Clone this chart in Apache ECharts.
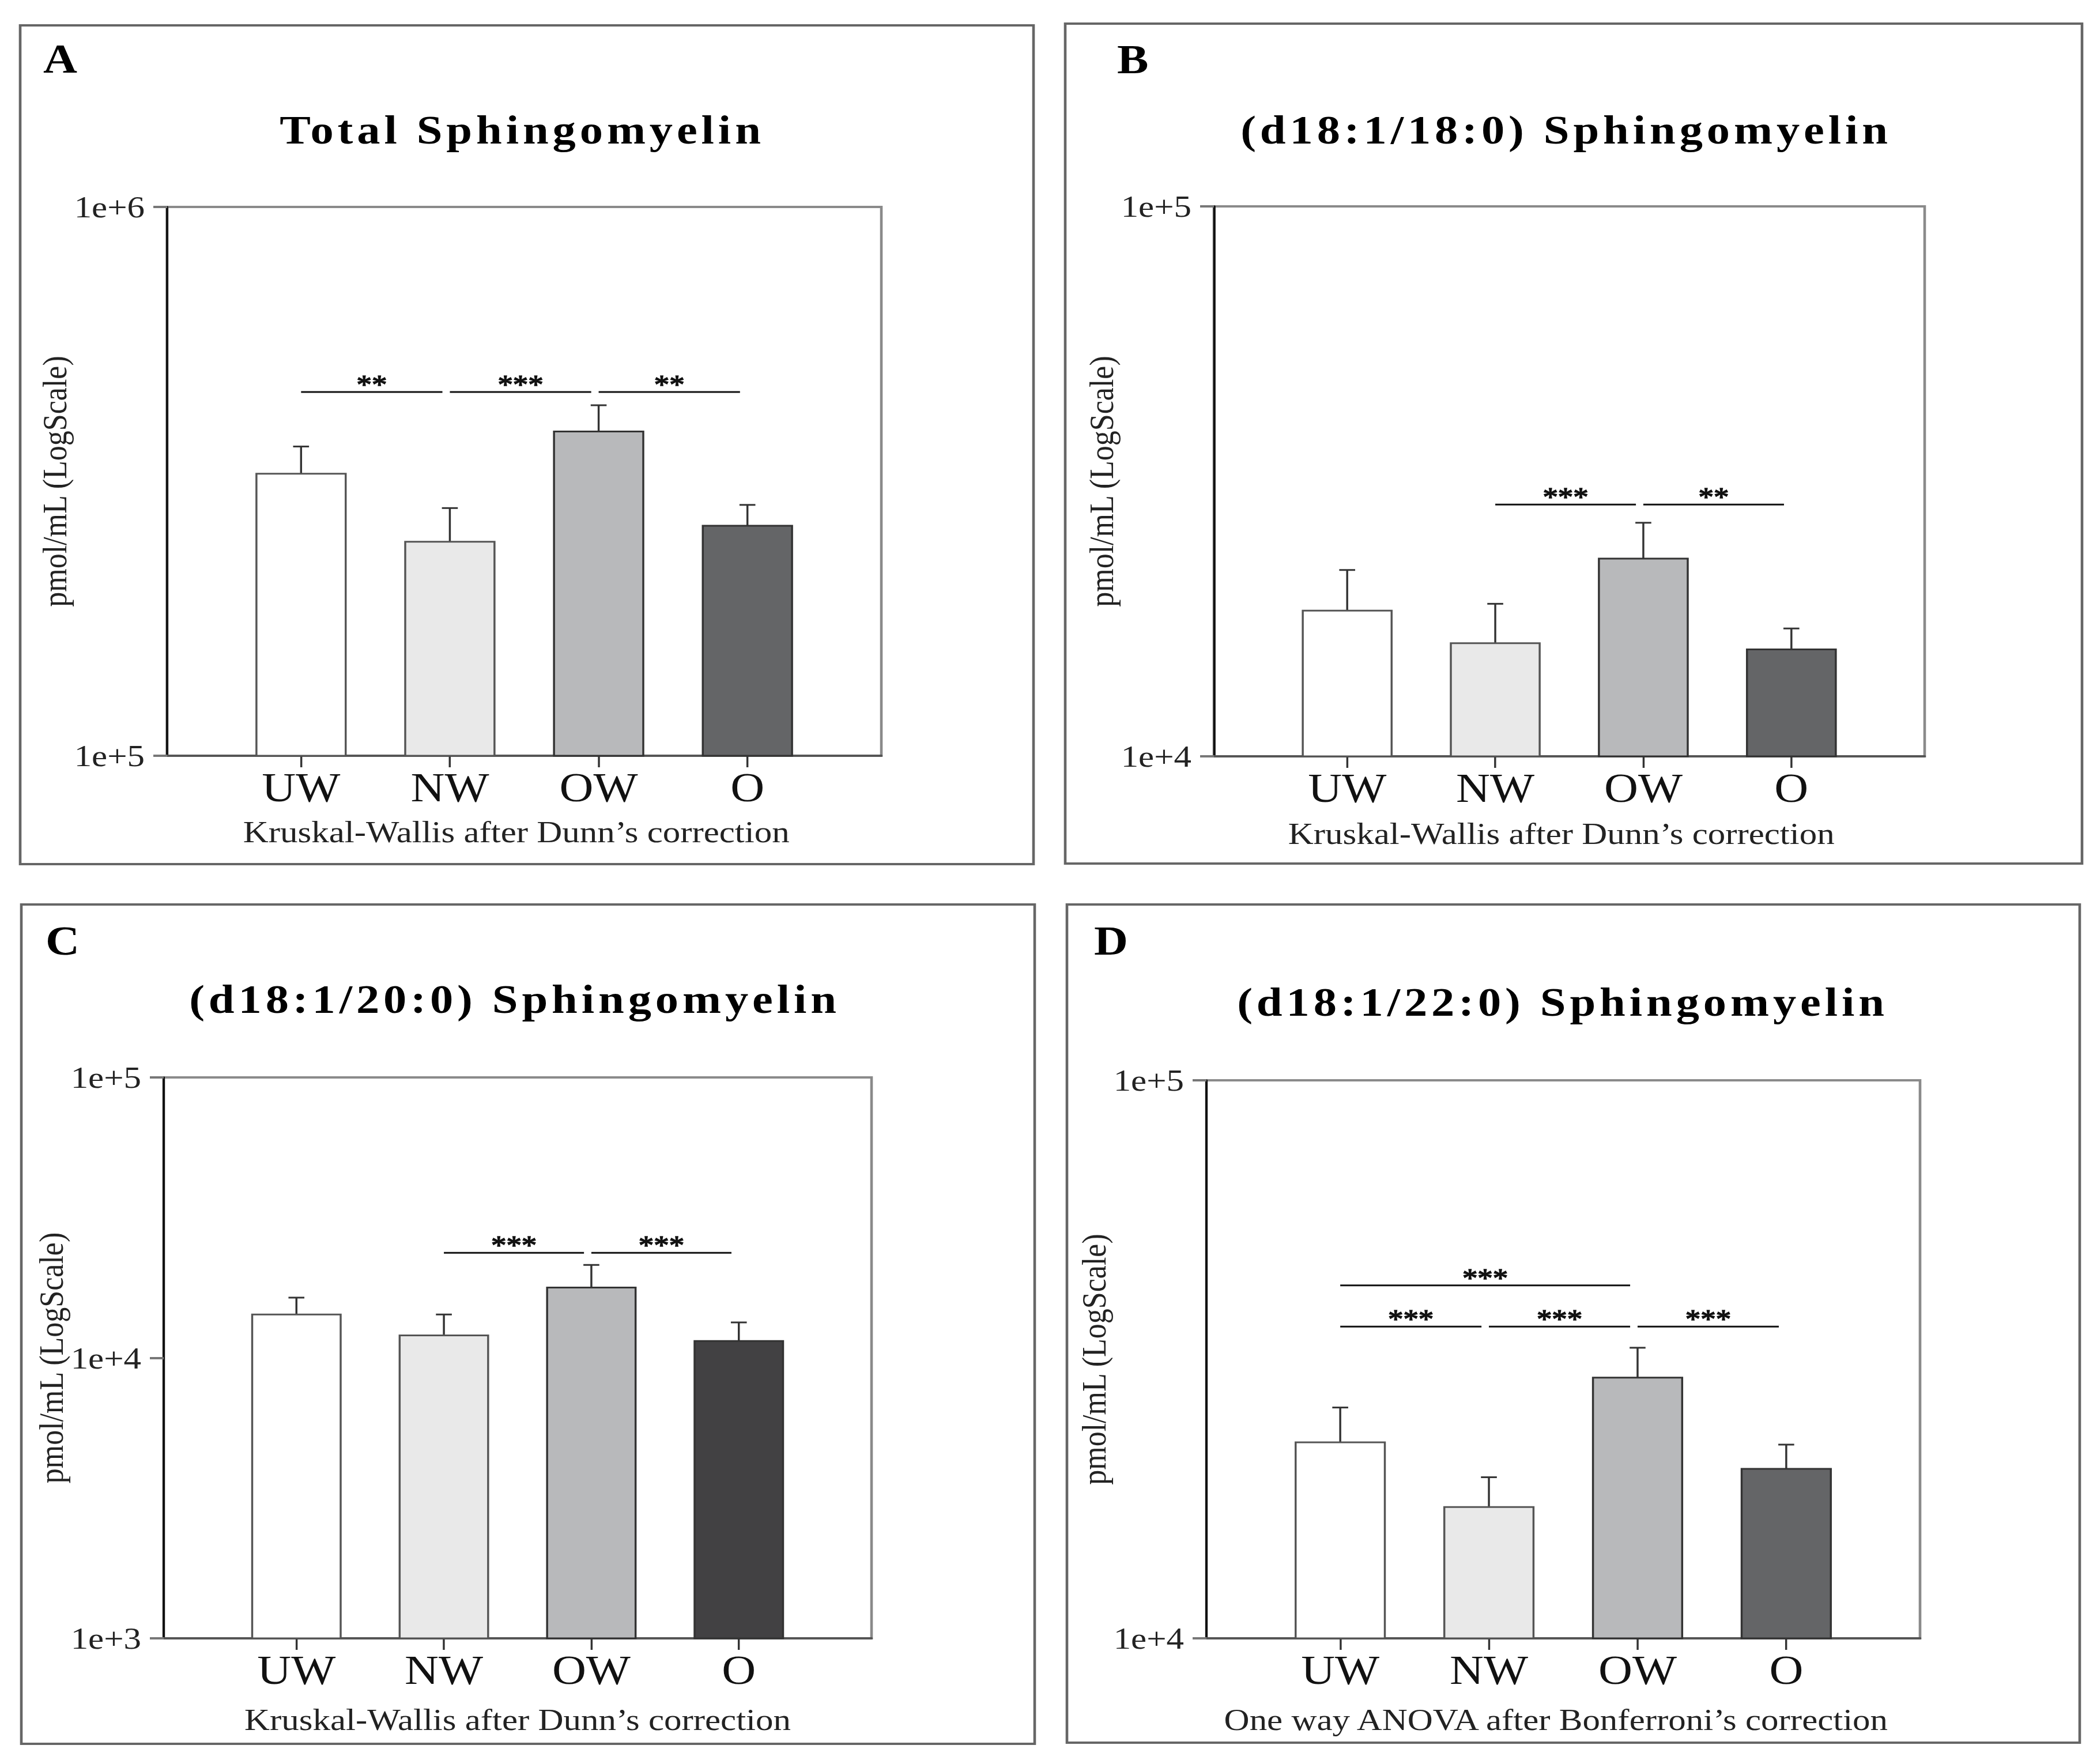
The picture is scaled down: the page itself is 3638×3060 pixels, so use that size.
<!DOCTYPE html>
<html>
<head>
<meta charset="utf-8">
<title>Sphingomyelin</title>
<script src="https://cdn.jsdelivr.net/npm/echarts@6/dist/echarts.min.js"></script>
<style>
html, body { margin: 0; padding: 0; background: #fff; overflow: hidden; }
#chart { height: 3060px; transform-origin: 0 0; }
/* titles are letter-spaced in the original */
#chart text[style*="bold"] { letter-spacing: 6px; }
</style>
</head>
<body>
<div id="chart"></div>
<script>
var categories = ['UW', 'NW', 'OW', 'O'];

// A - total sphingomyelin, mean and SEM (pmol/mL)
var totalMean = [326600, 245500, 389800, 262500];
var totalSem = [39400, 37200, 45400, 24000];
var totalRange = [1e5, 1e6];
var totalSig = [[0, 1, 460000], [1, 2, 460000], [2, 3, 460000]];
var totalStars = ['**', '***', '**'];

// B - (d18:1/18:0)
var sm18Mean = [18410, 16060, 22880, 15650];
var sm18Sem = [3410, 2880, 3710, 1430];
var sm18Range = [1e4, 1e5];
var sm18Sig = [[1, 2, 28700], [2, 3, 28700]];
var sm18Stars = ['***', '**'];

// C - (d18:1/20:0)
var sm20Mean = [14280, 12030, 17820, 11490];
var sm20Sem = [2120, 2250, 3630, 1890];
var sm20Range = [1e3, 1e5];
var sm20Sig = [[1, 2, 23700], [2, 3, 23700]];
var sm20Stars = ['***', '***'];

// D - (d18:1/22:0)
var sm22Mean = [22450, 17190, 29330, 20120];
var sm22Sem = [3470, 2250, 3840, 2120];
var sm22Range = [1e4, 1e5];
var sm22Sig = [[0, 2, 42900], [0, 1, 36200], [1, 2, 36200], [2, 3, 36200]];
var sm22Stars = ['***', '***', '***', '***'];

var dunnText = 'Kruskal-Wallis after Dunn’s correction';
var anovaText = 'One way ANOVA after Bonferroni’s correction';
var yName = 'pmol/mL (LogScale)';

// the original figure is stretched horizontally
var STRETCH = 1.15;
var FONT = "'Liberation Serif', serif";
function sx(v) { return v / STRETCH; }

var panels = [
    { letter: 'A', title: 'Total Sphingomyelin', mean: totalMean, sem: totalSem, range: totalRange,
      sig: totalSig, stars: totalStars, test: dunnText, dark: '#646567',
      box: [35, 44, 1793, 1499], plot: [290, 359, 1529, 1311], letterAt: [75, 126], titleAt: [906, 249],
      nameGap: 142, footGap: 105, footShift: 24 },
    { letter: 'B', title: '(d18:1/18:0) Sphingomyelin', mean: sm18Mean, sem: sm18Sem, range: sm18Range,
      sig: sm18Sig, stars: sm18Stars, test: dunnText, dark: '#646567',
      box: [1848, 41, 3612, 1498], plot: [2106, 358, 3339, 1312], letterAt: [1938, 127], titleAt: [2717, 249],
      nameGap: 122, footGap: 107, footShift: 24 },
    { letter: 'C', title: '(d18:1/20:0) Sphingomyelin', mean: sm20Mean, sem: sm20Sem, range: sm20Range,
      sig: sm20Sig, stars: sm20Stars, test: dunnText, dark: '#424143',
      box: [37, 1569, 1795, 3025], plot: [284, 1869, 1512, 2842], letterAt: [79, 1656], titleAt: [893, 1757],
      nameGap: 138, footGap: 114, footShift: 0 },
    { letter: 'D', title: '(d18:1/22:0) Sphingomyelin', mean: sm22Mean, sem: sm22Sem, range: sm22Range,
      sig: sm22Sig, stars: sm22Stars, test: anovaText, dark: '#646567',
      box: [1851, 1569, 3608, 3023], plot: [2093, 1874, 3331, 2842], letterAt: [1898, 1656], titleAt: [2711, 1762],
      nameGap: 112, footGap: 114, footShift: 22 }
];

function logLabel(v) {
    return '1e+' + Math.round(Math.log(v) / Math.LN10);
}

function barRenderer(pn) {
    var fills = ['#ffffff', '#e9e9e9', '#b8b9bb', pn.dark];
    var edges = ['#555', '#555', '#333', '#333'];
    return function (params, api) {
        var i = api.value(0), m = api.value(1), e = api.value(2);
        var top = api.coord([i, m]);
        var base = api.coord([i, pn.range[0]]);
        var hi = api.coord([i, m + e]);
        var bw = api.size([1, 0])[0] * 0.6;
        var err = { stroke: '#333', lineWidth: 3 };
        return {
            type: 'group',
            children: [
                { type: 'line', shape: { x1: top[0], y1: top[1], x2: hi[0], y2: hi[1] }, style: err },
                { type: 'line', shape: { x1: hi[0] - 12, y1: hi[1], x2: hi[0] + 12, y2: hi[1] }, style: err },
                { type: 'rect', shape: { x: top[0] - bw / 2, y: top[1], width: bw, height: base[1] - top[1] },
                  style: { fill: fills[i], stroke: edges[i], lineWidth: 3 } }
            ]
        };
    };
}

function sigRenderer(pn) {
    return function (params, api) {
        var a = api.coord([api.value(0), api.value(2)]);
        var b = api.coord([api.value(1), api.value(2)]);
        var band = api.size([1, 0])[0];
        var x1 = a[0], x2 = b[0] - band * 0.05;
        return {
            type: 'group',
            children: [
                { type: 'line', shape: { x1: x1, y1: a[1], x2: x2, y2: a[1] },
                  style: { stroke: '#111', lineWidth: 3 } },
                { type: 'text', x: (x1 + x2) / 2, y: a[1] - 12,
                  style: { text: pn.stars[params.dataIndex], fill: '#111', stroke: '#111', lineWidth: 1.5,
                           font: "46px " + FONT,
                           align: 'center', verticalAlign: 'middle',
                           textAlign: 'center', textVerticalAlign: 'middle' } }
            ]
        };
    };
}

var grids = [], xAxes = [], yAxes = [], series = [], graphics = [];

panels.forEach(function (pn, k) {
    var outer = 2 * k, inner = 2 * k + 1;
    var left = pn.plot[0], top = pn.plot[1], right = pn.plot[2], bottom = pn.plot[3];
    var step = (right - left) / 4.8;

    grids.push({ left: sx(left), top: top, width: sx(right - left), height: bottom - top,
                 show: true, borderColor: '#8a8a8a', borderWidth: 4, backgroundColor: 'transparent' });
    grids.push({ left: sx(left + 0.4 * step), top: top, width: sx(4 * step), height: bottom - top });

    xAxes.push({ type: 'value', gridIndex: outer, min: 0, max: 1,
                 axisLine: { show: true, onZero: false, lineStyle: { color: '#555', width: 4 } },
                 axisTick: { show: false }, axisLabel: { show: false }, splitLine: { show: false } });
    xAxes.push({ type: 'category', gridIndex: inner, data: categories,
                 axisLine: { show: false },
                 axisTick: { show: true, alignWithLabel: true, length: 20, lineStyle: { color: '#333', width: 3 } },
                 axisLabel: { fontSize: 71, color: '#111', margin: 20 },
                 name: pn.test, nameLocation: 'middle', nameGap: pn.footGap,
                 nameTextStyle: { fontSize: 53, color: '#222', padding: [0, pn.footShift, 0, 0] } });

    yAxes.push({ type: 'log', logBase: 10, gridIndex: outer, min: pn.range[0], max: pn.range[1],
                 name: yName, nameLocation: 'middle', nameGap: pn.nameGap,
                 nameTextStyle: { fontSize: 52, color: '#222' },
                 axisLine: { show: true, lineStyle: { color: '#111', width: 3.5 } },
                 axisTick: { show: true, length: sx(24), lineStyle: { color: '#777', width: 4 } },
                 axisLabel: { fontSize: 53, color: '#222', margin: sx(39), formatter: logLabel },
                 splitLine: { show: false }, minorTick: { show: false } });
    yAxes.push({ type: 'log', logBase: 10, gridIndex: inner, min: pn.range[0], max: pn.range[1], show: false });

    series.push({
        type: 'custom', xAxisIndex: inner, yAxisIndex: inner, silent: true,
        data: pn.mean.map(function (m, i) { return [i, m, pn.sem[i]]; }),
        encode: { x: 0, y: 1 },
        renderItem: barRenderer(pn)
    });
    series.push({
        type: 'custom', xAxisIndex: inner, yAxisIndex: inner, silent: true,
        data: pn.sig,
        encode: { x: 0, y: 2 },
        renderItem: sigRenderer(pn)
    });

    graphics.push({ type: 'rect', silent: true,
                    shape: { x: sx(pn.box[0]), y: pn.box[1], width: sx(pn.box[2] - pn.box[0]), height: pn.box[3] - pn.box[1] },
                    style: { fill: 'none', stroke: '#666', lineWidth: 4 } });
    graphics.push({ type: 'text', silent: true, x: sx(pn.letterAt[0]), y: pn.letterAt[1] - 0.3375 * 71,
                    style: { text: pn.letter, font: 'bold 71px ' + FONT, fill: '#000',
                             align: 'left', verticalAlign: 'middle', textAlign: 'left', textVerticalAlign: 'middle' } });
    graphics.push({ type: 'text', silent: true, x: sx(pn.titleAt[0]), y: pn.titleAt[1] - 0.3375 * 70,
                    style: { text: pn.title, font: 'bold 70px ' + FONT, fill: '#000',
                             align: 'center', verticalAlign: 'middle', textAlign: 'center', textVerticalAlign: 'middle' } });
});

var dom = document.getElementById('chart');
dom.style.width = (3638 / STRETCH) + 'px';
dom.style.transform = 'scaleX(' + STRETCH + ')';

var chart = echarts.init(dom, null, { renderer: 'svg' });
chart.setOption({
    animation: false,
    backgroundColor: '#fff',
    textStyle: { fontFamily: FONT },
    grid: grids,
    xAxis: xAxes,
    yAxis: yAxes,
    series: series,
    graphic: { elements: graphics }
});
</script>
</body>
</html>
